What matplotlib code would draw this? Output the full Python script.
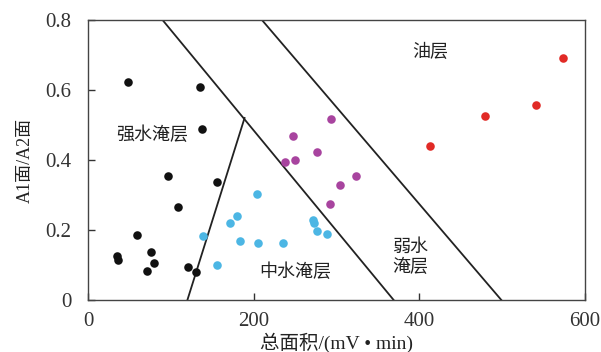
import matplotlib
matplotlib.use("Agg")
import matplotlib.pyplot as plt
import numpy as np

# total area (mV*min) and A1/A2 area ratio per class
strong_x = [48, 135, 138, 97, 156, 109, 59, 76, 35, 36, 80, 71, 121, 130]
strong_y = [0.622, 0.608, 0.489, 0.354, 0.337, 0.266, 0.185, 0.138, 0.125, 0.114, 0.105, 0.084, 0.095, 0.081]

medium_x = [204, 180, 171, 139, 184, 205, 236, 156, 272, 273, 277, 289]
medium_y = [0.302, 0.240, 0.219, 0.184, 0.169, 0.164, 0.162, 0.101, 0.230, 0.219, 0.198, 0.190]

weak_x = [293, 248, 277, 238, 250, 324, 304, 292]
weak_y = [0.517, 0.468, 0.424, 0.394, 0.399, 0.353, 0.328, 0.273]

oil_x = [574, 541, 479, 413]
oil_y = [0.692, 0.558, 0.526, 0.441]

# boundary lines between zones
line_a = ([90, 369], [0.8, 0.0])
line_b = ([210, 499], [0.8, 0.0])
line_c = ([120, 189], [0.0, 0.52])

serif = ["Liberation Serif", "Noto Sans CJK SC"]
cjk = ["Noto Sans CJK SC", "DejaVu Sans"]

fig = plt.figure(figsize=(6.01, 3.52), dpi=100)
ax = fig.add_axes([88 / 601, 52 / 352, 497 / 601, 280 / 352])

for xs, ys in (line_a, line_b, line_c):
    ax.plot(xs, ys, color="#222222", linewidth=1.3)

ax.scatter(strong_x, strong_y, s=38, color="#111111", zorder=3, linewidths=0)
ax.scatter(medium_x, medium_y, s=38, color="#4cb6e4", zorder=3, linewidths=0)
ax.scatter(weak_x, weak_y, s=38, color="#a8449f", zorder=3, linewidths=0)
ax.scatter(oil_x, oil_y, s=38, color="#e12a26", zorder=3, linewidths=0)

ax.text(413, 0.709, "油层", family=cjk, fontsize=13, ha="center", va="center", color="#222222")
ax.text(77, 0.471, "强水淹层", family=cjk, fontsize=13, ha="center", va="center", color="#222222")
ax.text(250, 0.08, "中水淹层", family=cjk, fontsize=13, ha="center", va="center", color="#222222")
ax.text(389, 0.123, "弱水\n淹层", family=cjk, fontsize=13, ha="center", va="center",
        color="#222222", linespacing=1.15)

ax.set_xlim(0, 600)
ax.set_ylim(0, 0.8)
ax.set_xticks([0, 200, 400, 600])
ax.set_xticklabels(["0", "200", "400", "600"])
ax.set_yticks([0, 0.2, 0.4, 0.6, 0.8])
ax.set_yticklabels(["0", "0.2", "0.4", "0.6", "0.8"])
ax.tick_params(direction="in", length=5, width=1, colors="#333333", labelcolor="#333333",
               labelsize=15, pad=9)
ax.tick_params(axis="y", pad=12)
for lab in ax.get_xticklabels() + ax.get_yticklabels():
    lab.set_family(serif)
for sp in ax.spines.values():
    sp.set_color("#444444")
    sp.set_linewidth(1)

ax.set_xlabel("总面积/(mV • min)", family=serif, fontsize=14, color="#222222", labelpad=1)
ax.set_ylabel("A1面/A2面", family=serif, fontsize=13, color="#222222", labelpad=8)

fig.savefig("out.png", dpi=100)
